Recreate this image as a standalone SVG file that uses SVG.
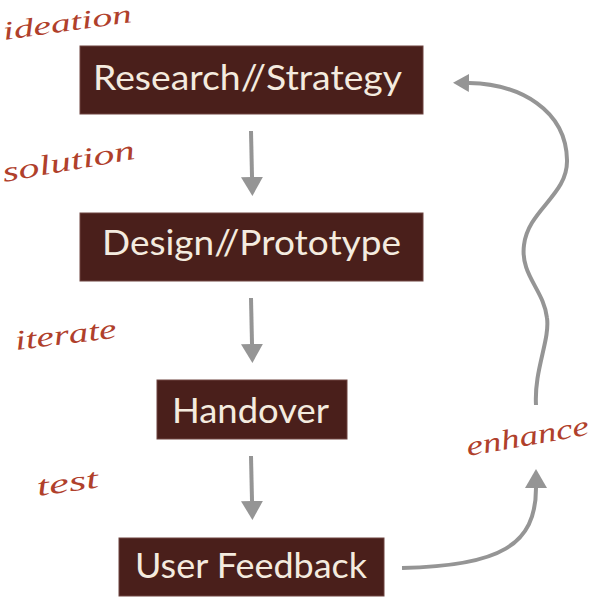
<svg xmlns="http://www.w3.org/2000/svg" width="594" height="597" viewBox="0 0 594 597">
<style>
.box{fill:#4a1f1b;stroke:#6e4440;stroke-width:1}
.lbl{font-family:Lato,"Open Sans","Liberation Sans",sans-serif;font-size:35px;fill:#f4ebdf}
.hand{font-family:"Liberation Serif","DejaVu Serif",serif;font-style:italic;font-size:28px;fill:#b0402b}
.conn{fill:none;stroke:#959595;stroke-width:4}
</style>
<defs>
<marker id="ah" viewBox="0 0 19 22" refX="0" refY="11" markerWidth="19" markerHeight="22" markerUnits="userSpaceOnUse" orient="auto">
<path d="M0,0 L19,11 L0,22 Z" fill="#959595"/>
</marker>
<marker id="ahs" viewBox="0 0 16 18" refX="0" refY="9" markerWidth="16" markerHeight="18" markerUnits="userSpaceOnUse" orient="auto">
<path d="M0,0 L16,9 L0,18 Z" fill="#959595"/>
</marker>
</defs>
<g id="connectors">
<path class="conn" d="M251,131 L252,177" marker-end="url(#ah)"/>
<path class="conn" d="M251,298 L252,344" marker-end="url(#ah)"/>
<path class="conn" d="M251,456 L252,501" marker-end="url(#ah)"/>
<path class="conn" d="M402,568 C500,566 536,545 536,488" marker-end="url(#ah)"/>
<path class="conn" d="M536,405 C534,370 550,340 547,318 C544,290 520,275 524,245 C528,210 568,195 567,160 C566,110 520,84 469,83" marker-end="url(#ahs)"/>
</g>
<g id="node-research">
<rect class="box" x="80" y="46" width="343" height="68"/>
<text class="lbl" x="93" y="90" textLength="309" lengthAdjust="spacingAndGlyphs">Research//Strategy</text>
</g>
<g id="node-design">
<rect class="box" x="80" y="213" width="343" height="68"/>
<text class="lbl" x="102" y="255" textLength="299" lengthAdjust="spacingAndGlyphs">Design//Prototype</text>
</g>
<g id="node-handover">
<rect class="box" x="157" y="380" width="190" height="59"/>
<text class="lbl" x="172" y="423" textLength="157" lengthAdjust="spacingAndGlyphs">Handover</text>
</g>
<g id="node-feedback">
<rect class="box" x="119" y="538" width="265" height="58"/>
<text class="lbl" x="135" y="578" textLength="232" lengthAdjust="spacingAndGlyphs">User Feedback</text>
</g>
<g id="labels">
<text class="hand" style="font-size:26px" transform="translate(4,40) rotate(-8)" textLength="130" lengthAdjust="spacingAndGlyphs">ideation</text>
<text class="hand" transform="translate(4,182) rotate(-10)" textLength="134" lengthAdjust="spacingAndGlyphs">solution</text>
<text class="hand" transform="translate(16,350) rotate(-7)" textLength="102" lengthAdjust="spacingAndGlyphs">iterate</text>
<text class="hand" transform="translate(38,496) rotate(-8)" textLength="62" lengthAdjust="spacingAndGlyphs">test</text>
<text class="hand" transform="translate(468,456) rotate(-10)" textLength="124" lengthAdjust="spacingAndGlyphs">enhance</text>
</g>
</svg>
